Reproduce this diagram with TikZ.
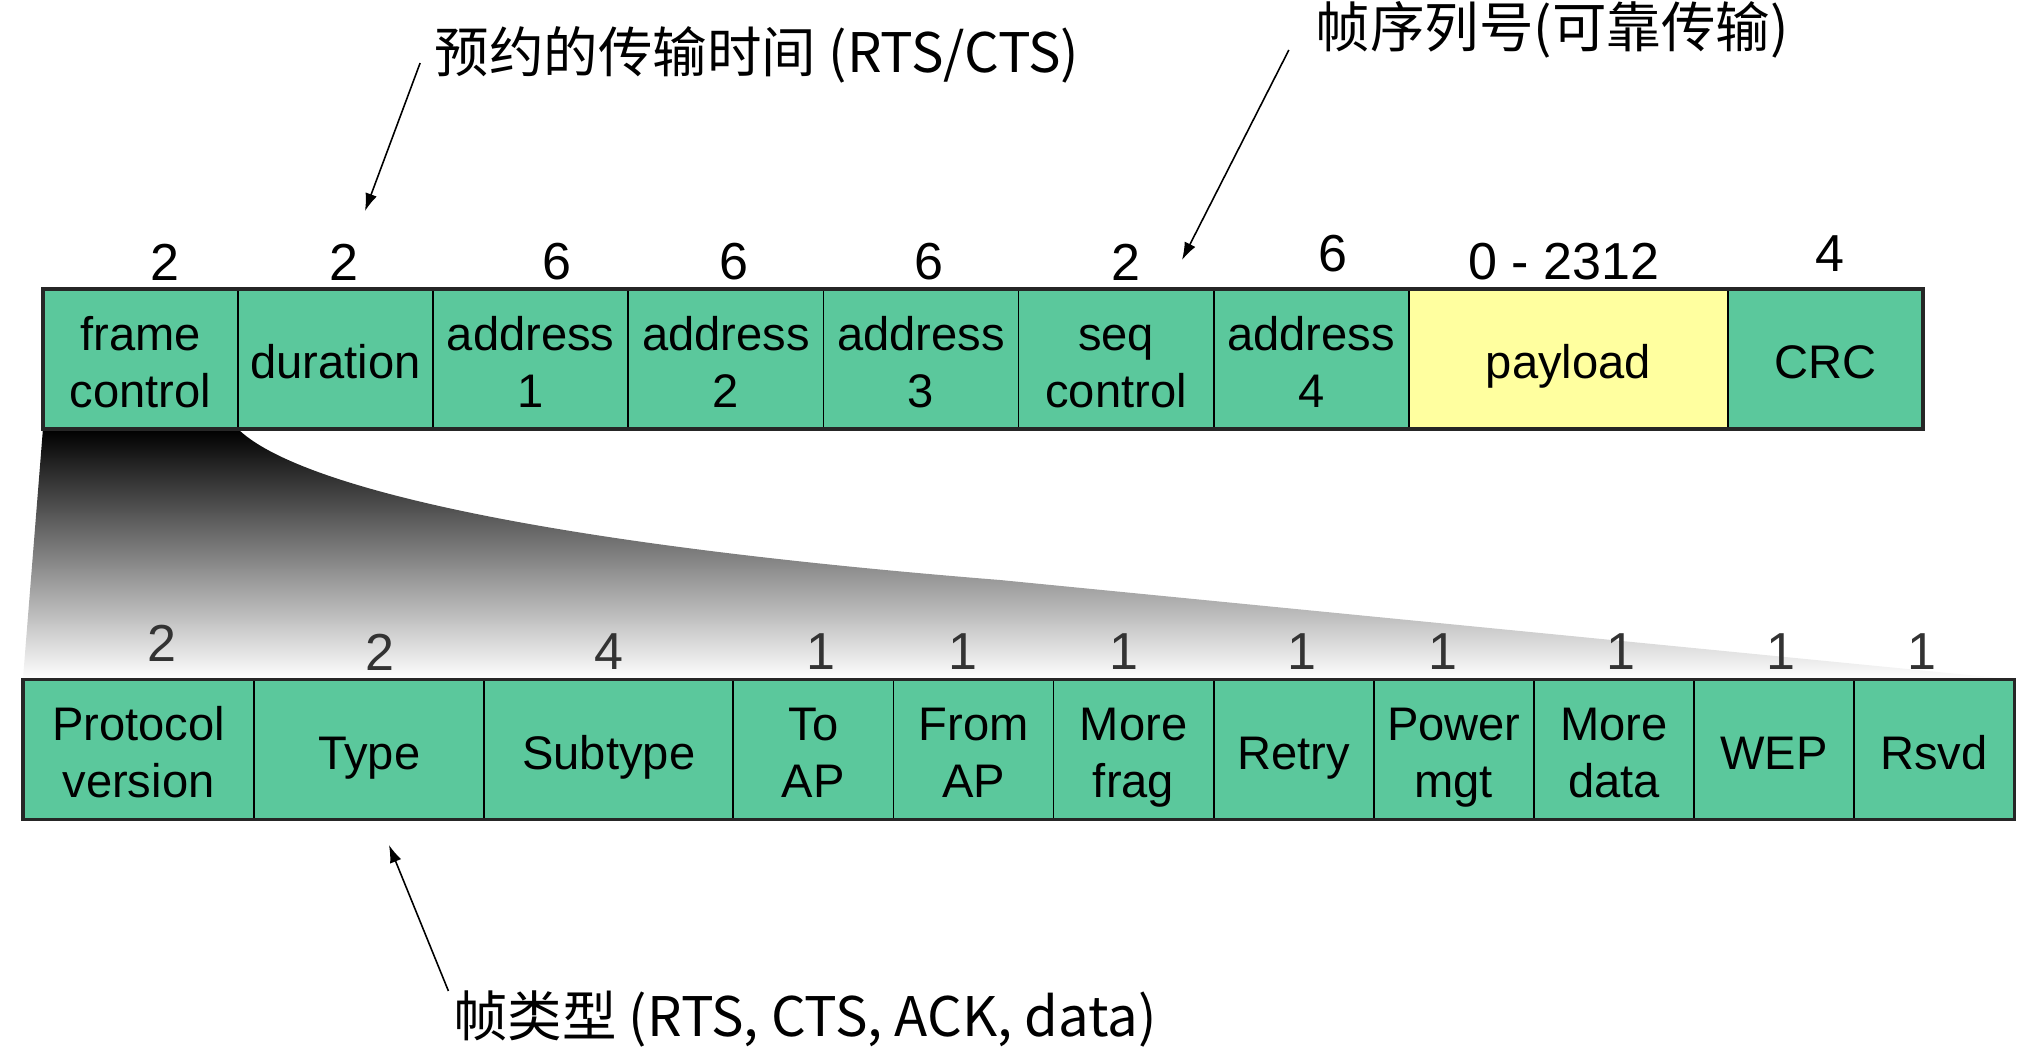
\documentclass[tikz,border=0pt]{standalone}
\usepackage{fontspec}
\setmainfont{Liberation Sans}
\newfontfamily\cjkfont{Noto Sans CJK SC}
\usetikzlibrary{arrows.meta,positioning,backgrounds}
\definecolor{field}{HTML}{5BC89C}
\definecolor{payload}{HTML}{FFFF9F}

\begin{document}
\begin{tikzpicture}[x=0.01cm, y=-0.01cm, node distance=0pt,
  cell/.style={draw=black, line width=0.5pt, fill=field, minimum height=1.4cm, minimum width=1.95cm, inner sep=0pt, outer sep=0pt, align=center, text depth=0pt, font=\fontsize{13.4}{16.2}\selectfont},
  bit/.style={cell, minimum width=1.6cm},
  num/.style={inner sep=0pt, font=\fontsize{14.8}{17}\selectfont},
  note/.style={inner sep=0pt, font=\cjkfont\fontsize{15.5}{18}\selectfont},
  arr/.style={-{Latex[length=5pt,width=3.4pt]}, line width=0.45pt}]
\useasboundingbox (0,0) rectangle (2040,1064);
% frame fields
\node[cell] (fc) at (140.5,359) {\strut frame\\control};
\node[cell, right=of fc] (dur) {\strut duration};
\node[cell, right=of dur] (ad1) {\strut address\\1};
\node[cell, right=of ad1] (ad2) {\strut address\\2};
\node[cell, right=of ad2] (ad3) {\strut address\\3};
\node[cell, right=of ad3] (seq) {\strut seq\\control};
\node[cell, right=of seq] (ad4) {\strut address\\4};
\node[cell, fill=payload, minimum width=3.19cm, right=of ad4] (pay) {\strut payload};
\node[cell, right=of pay] (crc) {\strut CRC};
\draw[line width=0.9pt, black!85] (fc.north west) rectangle (crc.south east);
% frame control bits
\node[cell, minimum width=2.31cm] (pv) at (138.5,749.5) {\strut Protocol\\version};
\node[cell, minimum width=2.30cm, right=of pv] (ty) {\strut Type};
\node[cell, minimum width=2.49cm, right=of ty] (sub) {\strut Subtype};
\node[bit, right=of sub] (toap) {\strut To\\AP};
\node[bit, right=of toap] (fromap) {\strut From\\AP};
\node[bit, right=of fromap] (mfrag) {\strut More\\frag};
\node[bit, right=of mfrag] (retry) {\strut Retry};
\node[bit, right=of retry] (pwr) {\strut Power\\mgt};
\node[bit, right=of pwr] (mdata) {\strut More\\data};
\node[bit, right=of mdata] (wep) {\strut WEP};
\node[bit, right=of wep] (rsvd) {\strut Rsvd};
\draw[line width=0.9pt, black!85] (pv.north west) rectangle (rsvd.south east);
% zoom wedge
\begin{scope}[on background layer]
\shade[top color=black, middle color=black!22, bottom color=white] (fc.south west) -- (fc.south east) .. controls (290,480) and (500,540) .. (1000,580) -- (rsvd.north east) -- (pv.north west) -- cycle;
\end{scope}
% field sizes
\node[num] (s1) at (165,262) {2}; \node[num] (s2) at (344,262) {2}; \node[num] (s3) at (557,262) {6};
\node[num] (s4) at (734,262) {6}; \node[num] (s5) at (929,262) {6}; \node[num] (s6) at (1126,262) {2};
\node[num] (s7) at (1333,254) {6}; \node[num] (s8) at (1564,262) {0 - 2312}; \node[num] (s9) at (1830,254) {4};
\node[num, black!80] (b1) at (162,643) {2}; \node[num, black!80] (b2) at (380,652) {2}; \node[num, black!80] (b3) at (609,652) {4};
\node[num, black!80] (b4) at (821,652) {1}; \node[num, black!80] (b5) at (963,652) {1}; \node[num, black!80] (b6) at (1124,652) {1};
\node[num, black!80] (b7) at (1302,652) {1}; \node[num, black!80] (b8) at (1443,652) {1}; \node[num, black!80] (b9) at (1621,652) {1};
\node[num, black!80] (b10) at (1781,652) {1}; \node[num, black!80] (b11) at (1922,652) {1};
% notes
\node[note] (rts) at (757,55) {预约的传输时间 (RTS/CTS)};
\node[note] (seqno) at (1552,30) {帧序列号(可靠传输)};
\node[note] (ftype) at (805,1019) {帧类型 (RTS, CTS, ACK, data)};
\coordinate (durtip) at (365,211);
\coordinate (seqtip) at (1182,260);
\coordinate (typetip) at (389,845);
\draw[arr] ([shift={(-14,8)}]rts.west) -- (durtip);
\draw[arr] ([shift={(-26,20)}]seqno.west) -- (seqtip);
\draw[arr] ([shift={(-4,-28)}]ftype.west) -- (typetip);
\end{tikzpicture}
\end{document}
